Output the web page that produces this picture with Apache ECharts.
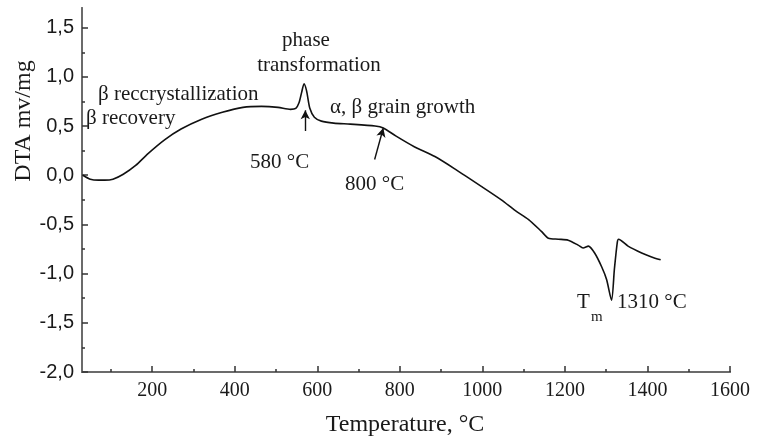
<!DOCTYPE html>
<html>
<head>
<meta charset="utf-8">
<script src="https://cdn.jsdelivr.net/npm/echarts@6/dist/echarts.min.js"></script>
<style>
  html, body { margin: 0; padding: 0; background: #fff; }
  #chart { width: 757px; height: 440px; }
</style>
</head>
<body>
<div id="chart"></div>
<script>
// DTA curve
const temps = [32, 50, 70, 85, 105, 130, 160, 190, 230, 270, 320, 370, 420, 465, 505, 535,
  548, 556, 562, 568, 574, 582, 593, 610, 640, 680, 740, 760, 790, 835, 885, 935, 1000,
  1046, 1080, 1112, 1143, 1160, 1184, 1208, 1232, 1244, 1257, 1272, 1289, 1301, 1313,
  1320, 1327, 1330, 1353, 1386, 1410, 1432];
const dta = [0.0, -0.04, -0.05, -0.05, -0.04, 0.01, 0.1, 0.22, 0.36, 0.47, 0.57, 0.64, 0.69,
  0.70, 0.69, 0.67, 0.68, 0.74, 0.84, 0.93, 0.86, 0.68, 0.59, 0.55, 0.53, 0.52, 0.50, 0.48,
  0.40, 0.29, 0.19, 0.06, -0.12, -0.25, -0.36, -0.45, -0.57, -0.64, -0.65, -0.66, -0.71,
  -0.74, -0.72, -0.79, -0.93, -1.06, -1.27, -0.95, -0.68, -0.65, -0.72, -0.79, -0.83, -0.86];

const xMajor = [200, 400, 600, 800, 1000, 1200, 1400, 1600];
const xMinor = [100, 300, 500, 700, 900, 1100, 1300, 1500];
const yMajor = [-2.0, -1.5, -1.0, -0.5, 0.0, 0.5, 1.0, 1.5];
const yMinor = [-1.75, -1.25, -0.75, -0.25, 0.25, 0.75, 1.25];

// arrows: [fromTemp, fromDta, toTemp, toDta]
const arrow580 = [571, 0.45, 571, 0.66];
const arrow800 = [739, 0.16, 760, 0.48];

const chart = echarts.init(document.getElementById('chart'));

const axisColor = '#6b6b6b';
const textColor = '#1a1a1a';
const serif = '"Liberation Serif", "DejaVu Serif", serif';
const sans = '"Liberation Sans", Arial, sans-serif';

function xAxisDef(ticks, len, labels) {
  return {
    type: 'value', min: 30, max: 1600, position: 'bottom',
    axisLine: { show: true, onZero: false, lineStyle: { color: axisColor, width: 2 } },
    axisTick: { show: true, inside: true, length: len, customValues: ticks,
      lineStyle: { color: '#333', width: 1.5 } },
    axisLabel: labels ? { show: true, customValues: ticks, margin: 9,
      fontFamily: serif, fontSize: 20, color: textColor,
      formatter: v => String(v) } : { show: false },
    splitLine: { show: false }
  };
}

function yAxisDef(ticks, len, labels) {
  return {
    type: 'value', min: -2, max: 1.7, position: 'left',
    axisLine: { show: true, onZero: false, lineStyle: { color: axisColor, width: 2 } },
    axisTick: { show: true, inside: true, length: len, customValues: ticks,
      lineStyle: { color: '#333', width: 1.5 } },
    axisLabel: labels ? { show: true, customValues: ticks, margin: 8,
      fontFamily: sans, fontSize: 20, color: textColor,
      formatter: v => v.toFixed(1).replace('.', ',') } : { show: false },
    splitLine: { show: false }
  };
}

function note(text, x, y, size, align) {
  return { type: 'text', x: x, y: y, style: { text: text, font: size + 'px ' + serif,
    fill: textColor, align: align || 'left', verticalAlign: 'middle' } };
}

const option = {
  animation: false,
  backgroundColor: '#fff',
  grid: { left: 82, right: 27, top: 8, bottom: 68 },
  xAxis: [xAxisDef(xMajor, 6, true), xAxisDef(xMinor, 3, false)],
  yAxis: [yAxisDef(yMajor, 6, true), yAxisDef(yMinor, 3, false)],
  series: [{
    type: 'line',
    data: temps.map((t, i) => [t, dta[i]]),
    showSymbol: false,
    smooth: 0.25,
    lineStyle: { color: '#111', width: 1.6 },
    markLine: {
      silent: true,
      symbol: ['none', 'arrow'],
      symbolSize: [7, 9],
      label: { show: false },
      lineStyle: { color: '#111', width: 1.4, type: 'solid' },
      data: [
        [{ coord: [arrow580[0], arrow580[1]] }, { coord: [arrow580[2], arrow580[3]] }],
        [{ coord: [arrow800[0], arrow800[1]] }, { coord: [arrow800[2], arrow800[3]] }]
      ]
    }
  }],
  graphic: [
    note('Temperature, °C', 405, 425, 24, 'center'),
    { type: 'text', x: 24, y: 121, rotation: Math.PI / 2, style: { text: 'DTA mv/mg',
      font: '24px ' + serif, fill: textColor, align: 'center', verticalAlign: 'middle' } },
    note('phase', 306, 40, 21, 'center'),
    note('transformation', 319, 65, 21, 'center'),
    note('β reccrystallization', 98, 94, 21),
    note('β recovery', 86, 118, 21),
    note('α, β grain growth', 330, 107, 21),
    note('580 °C', 250, 162, 21),
    note('800 °C', 345, 184, 21),
    note('T', 577, 302, 21),
    note('m', 591, 317, 15),
    note('1310 °C', 617, 302, 21)
  ]
};

chart.setOption(option);
</script>
</body>
</html>
